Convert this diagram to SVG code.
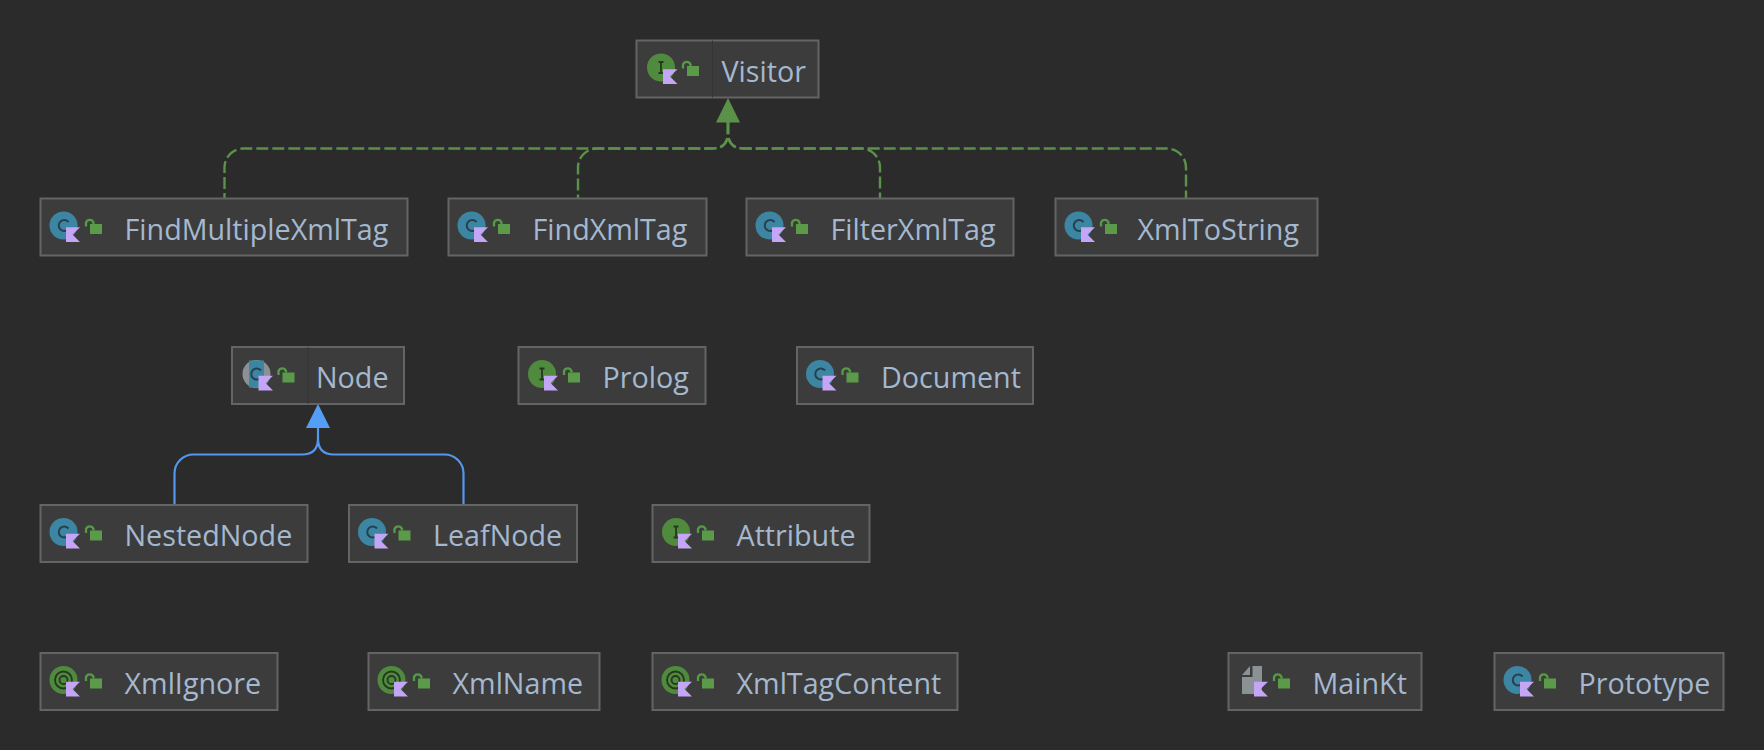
<svg xmlns="http://www.w3.org/2000/svg" width="1764" height="750" viewBox="0 0 1764 750">
<style>
.box{fill:#3c3c3c;stroke:#646464;stroke-width:2}
.div{stroke:#353535;stroke-width:1}
.t{font-family:"Open Sans","Noto Sans",sans-serif;font-size:28.700px;fill:#a4b8cf}
.dash{fill:none;stroke:#5b9149;stroke-width:2.400;stroke-dasharray:12 4}
.sol{fill:none;stroke:#5398ee;stroke-width:2.200}
</style>
<defs>
<g id="lock"><path d="M45.500 28V24a4 4 0 0 1 7.500 0V25.500" fill="none" stroke="#559a45" stroke-width="2.300"/><rect x="49.500" y="25.500" width="12" height="10" fill="#5a9a48"/></g>
<g id="lockb"><path d="M46.500 28V24a4 4 0 0 1 7.500 0V25.500" fill="none" stroke="#559a45" stroke-width="2.300"/><rect x="50.500" y="25.500" width="12" height="10" fill="#5a9a48"/></g>
<polygon id="flag" points="25.500,28.800 39.500,28.800 32,36 39.500,43.500 25.500,43.500" fill="#c5a5f5"/>
<polygon id="flagb" points="26.500,28.800 41,28.800 33.500,36 41,43.500 26.500,43.500" fill="#c5a5f5"/>
<g id="cls"><circle cx="23" cy="27" r="14" fill="#3d86a3"/><path d="M28 23.500a5.500 5.500 0 1 0 0 7" fill="none" stroke="#26404d" stroke-width="2"/></g>
<g id="iface"><circle cx="24.500" cy="27" r="14" fill="#508a3e"/><path d="M22 21.500h5M24.500 21.500v11M22 32.500h5" stroke="#26381f" stroke-width="1.800" fill="none"/></g>
<g id="ifacec"><circle cx="23.500" cy="27" r="14" fill="#508a3e"/><path d="M21 21.500h5M23.500 21.500v11M21 32.500h5" stroke="#26381f" stroke-width="1.800" fill="none"/></g>
<g id="annot"><circle cx="23" cy="27" r="14" fill="#508a3e"/><circle cx="23" cy="27" r="8.500" fill="none" stroke="#26381f" stroke-width="1.800"/><circle cx="23" cy="27" r="4" fill="none" stroke="#26381f" stroke-width="1.800"/></g>
<g id="abs"><circle cx="24.500" cy="27" r="14" fill="#8a9296"/><rect x="17" y="13.500" width="15" height="27" fill="#3d86a3"/><path d="M29 23.500a5.500 5.500 0 1 0 0 7" fill="none" stroke="#26404d" stroke-width="2"/></g>
<path id="file" d="M21.500 13V22H13.500ZM24 13H33.500V41H13.500V24H24Z" fill="#8a9296"/>
</defs>
<rect width="1764" height="750" fill="#2b2b2b"/>
<g id="connectors">
<path class="dash" d="M728 122V132.500q0 16-16 16H243.500a19 19 0 0 0-19 19V198"/>
<path class="dash" d="M728 122V132.500q0 16-16 16H597a19 19 0 0 0-19 19V198"/>
<path class="dash" d="M728 122V132.500q0 16 16 16H861a19 19 0 0 1 19 19V198"/>
<path class="dash" d="M728 122V132.500q0 16 16 16H1167a19 19 0 0 1 19 19V198"/>
<polygon points="728,98 716,122.500 740,122.500" fill="#5b9149"/>
<path class="sol" d="M174.500 504V473.500a19 19 0 0 1 19-19H302q16 0 16-16V428"/>
<path class="sol" d="M463.500 504V473.500a19 19 0 0 0-19-19H334q-16 0-16-16"/>
<polygon points="318,404 306,428 330,428" fill="#559ef5"/>
</g>
<g id="Visitor" transform="translate(636.500 40.500)"><rect class="box" width="182" height="57"/><path class="div" d="M76 0V57"/><use href="#iface"/><use href="#flagb"/><use href="#lockb"/><text class="t" x="85" y="41">Visitor</text></g>
<g id="FindMultipleXmlTag" transform="translate(40.500 198.500)"><rect class="box" width="367" height="57"/><use href="#cls"/><use href="#flag"/><use href="#lock"/><text class="t" x="84" y="41">FindMultipleXmlTag</text></g>
<g id="FindXmlTag" transform="translate(448.500 198.500)"><rect class="box" width="258" height="57"/><use href="#cls"/><use href="#flag"/><use href="#lock"/><text class="t" x="84" y="41">FindXmlTag</text></g>
<g id="FilterXmlTag" transform="translate(746.500 198.500)"><rect class="box" width="267" height="57"/><use href="#cls"/><use href="#flag"/><use href="#lock"/><text class="t" x="84" y="41">FilterXmlTag</text></g>
<g id="XmlToString" transform="translate(1055.500 198.500)"><rect class="box" width="262" height="57"/><use href="#cls"/><use href="#flag"/><use href="#lock"/><text class="t" x="82" y="41">XmlToString</text></g>
<g id="Node" transform="translate(232 347)"><rect class="box" width="172" height="57"/><path class="div" d="M76 0V57"/><use href="#abs"/><use href="#flagb"/><use href="#lockb"/><text class="t" x="84" y="41">Node</text></g>
<g id="Prolog" transform="translate(518.500 347)"><rect class="box" width="187" height="57"/><use href="#ifacec"/><use href="#flag"/><use href="#lock"/><text class="t" x="84" y="41">Prolog</text></g>
<g id="Document" transform="translate(797 347)"><rect class="box" width="236" height="57"/><use href="#cls"/><use href="#flag"/><use href="#lock"/><text class="t" x="84" y="41">Document</text></g>
<g id="NestedNode" transform="translate(40.500 505)"><rect class="box" width="267" height="57"/><use href="#cls"/><use href="#flag"/><use href="#lock"/><text class="t" x="84" y="41">NestedNode</text></g>
<g id="LeafNode" transform="translate(349 505)"><rect class="box" width="228" height="57"/><use href="#cls"/><use href="#flag"/><use href="#lock"/><text class="t" x="84" y="41">LeafNode</text></g>
<g id="Attribute" transform="translate(652.500 505)"><rect class="box" width="217" height="57"/><use href="#ifacec"/><use href="#flag"/><use href="#lock"/><text class="t" x="84" y="41">Attribute</text></g>
<g id="XmlIgnore" transform="translate(40.500 653)"><rect class="box" width="237" height="57"/><use href="#annot"/><use href="#flag"/><use href="#lock"/><text class="t" x="84" y="41">XmlIgnore</text></g>
<g id="XmlName" transform="translate(368.500 653)"><rect class="box" width="231" height="57"/><use href="#annot"/><use href="#flag"/><use href="#lock"/><text class="t" x="84" y="41">XmlName</text></g>
<g id="XmlTagContent" transform="translate(652.500 653)"><rect class="box" width="305" height="57"/><use href="#annot"/><use href="#flag"/><use href="#lock"/><text class="t" x="84" y="41">XmlTagContent</text></g>
<g id="MainKt" transform="translate(1228.500 653)"><rect class="box" width="193" height="57"/><use href="#file"/><use href="#flag"/><use href="#lock"/><text class="t" x="84" y="41">MainKt</text></g>
<g id="Prototype" transform="translate(1494.500 653)"><rect class="box" width="229" height="57"/><use href="#cls"/><use href="#flag"/><use href="#lock"/><text class="t" x="84" y="41">Prototype</text></g>
</svg>
